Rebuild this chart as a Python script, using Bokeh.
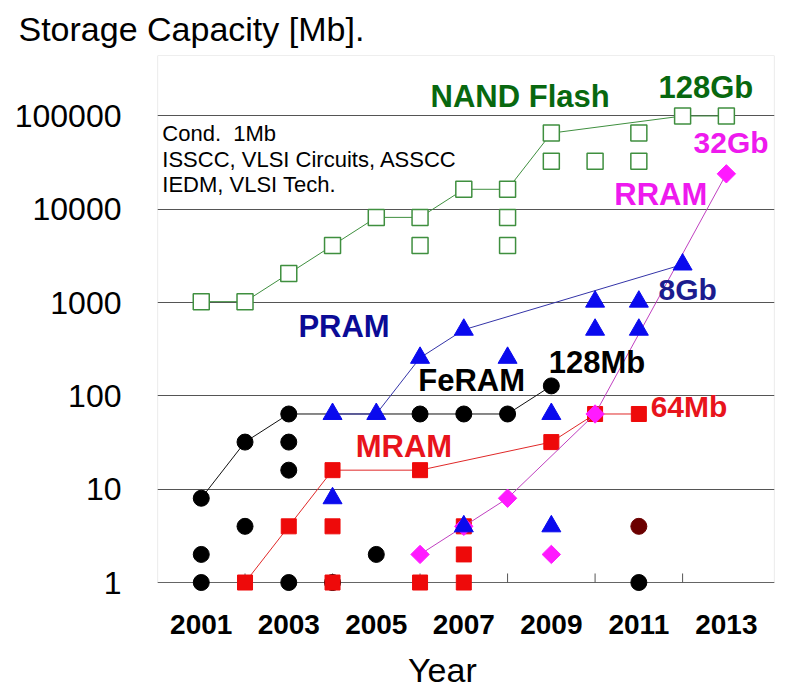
from bokeh.plotting import figure
from bokeh.models import Range1d, FixedTicker, Label, BoxAnnotation
from bokeh.embed import file_html
from bokeh.resources import INLINE

# ---------------- data ----------------
X_TICKS = [2001, 2003, 2005, 2007, 2009, 2011, 2013]
X_TICK_LABELS = ["2001", "2003", "2005", "2007", "2009", "2011", "2013"]
Y_TICKS = [1, 10, 100, 1000, 10000, 100000]
Y_TICK_LABELS = ["1", "10", "100", "1000", "10000", "100000"]
INNER_TICKS = [2002, 2004, 2006, 2008, 2010, 2012]

# NAND Flash (open squares)
NAND_LINE_YEARS = [2001, 2002, 2003, 2004, 2005, 2006, 2007, 2008, 2009, 2012, 2013]
NAND_LINE_MB = [1024, 1024, 2048, 4096, 8192, 8192, 16384, 16384, 65536, 100000, 100000]
NAND_EXTRA_YEARS = [2006, 2008, 2008, 2009, 2010, 2011, 2011]
NAND_EXTRA_MB = [4096, 8192, 4096, 32768, 32768, 65536, 32768]

# FeRAM (black circles)
FERAM_LINE_YEARS = [2001, 2002, 2003, 2006, 2007, 2008, 2009]
FERAM_LINE_MB = [8, 32, 64, 64, 64, 64, 128]
FERAM_EXTRA_YEARS = [2001, 2001, 2002, 2003, 2003, 2003, 2004, 2005, 2011]
FERAM_EXTRA_MB = [2, 1, 4, 32, 16, 1, 1, 2, 1]
FERAM_DARK_YEARS = [2011]
FERAM_DARK_MB = [4]

# MRAM (red squares)
MRAM_LINE_YEARS = [2002, 2003, 2004, 2006, 2009, 2010, 2011]
MRAM_LINE_MB = [1, 4, 16, 16, 32, 64, 64]
MRAM_EXTRA_YEARS = [2004, 2004, 2006, 2007, 2007, 2007]
MRAM_EXTRA_MB = [4, 1, 1, 4, 2, 1]

# RRAM (magenta diamonds)
RRAM_LINE_YEARS = [2006, 2007, 2008, 2010, 2013]
RRAM_LINE_MB = [2, 4, 8, 64, 24000]
RRAM_EXTRA_YEARS = [2009]
RRAM_EXTRA_MB = [2]

# PRAM (blue triangles)
PRAM_LINE_YEARS = [2004, 2005, 2006, 2007, 2012]
PRAM_LINE_MB = [64, 64, 256, 512, 2560]
PRAM_EXTRA_YEARS = [2004, 2007, 2008, 2009, 2009, 2010, 2010, 2011, 2011]
PRAM_EXTRA_MB = [8, 4, 256, 64, 4, 1024, 512, 1024, 512]

# ---------------- figure ----------------
W, H = 800, 695
FONT = "Liberation Sans"
FRAME_L, FRAME_R, FRAME_T, FRAME_B = 157, 774, 55, 594
PX_PER_DECADE = 93.3

p = figure(width=W, height=H, output_backend="svg", toolbar_location=None,
           x_range=Range1d(2000, 2014.1), y_range=Range1d(0.744, 445000),
           y_axis_type="log",
           min_border_left=FRAME_L, min_border_right=W - FRAME_R,
           min_border_top=FRAME_T, min_border_bottom=H - FRAME_B)
p.outline_line_color = None
p.background_fill_color = "white"
p.border_fill_color = "white"

# title (outside the frame, top-left)
p.title.text = "Storage Capacity [Mb]."
p.title.text_font = FONT
p.title.text_font_style = "normal"
p.title.text_font_size = "34px"
p.title.text_color = "black"
p.title.align = "left"
p.title.vertical_align = "top"
p.title.offset = 18 - FRAME_L
p.title.standoff = 12

# axes
p.xaxis.ticker = FixedTicker(ticks=X_TICKS, minor_ticks=[])
p.xaxis.major_label_overrides = {t: s for t, s in zip(X_TICKS, X_TICK_LABELS)}
p.xaxis.major_label_text_font = FONT
p.xaxis.major_label_text_font_style = "bold"
p.xaxis.major_label_text_font_size = "28px"
p.xaxis.major_label_text_color = "black"
p.xaxis.major_label_standoff = 14
p.xaxis.axis_line_color = None
p.xaxis.major_tick_line_color = None
p.xaxis.minor_tick_line_color = None
p.xaxis.axis_label = "Year" + "\u00a0" * 5
p.xaxis.axis_label_text_font = FONT
p.xaxis.axis_label_text_font_style = "normal"
p.xaxis.axis_label_text_font_size = "34px"
p.xaxis.axis_label_text_color = "black"
p.xaxis.axis_label_standoff = 14

p.yaxis.ticker = FixedTicker(ticks=Y_TICKS, minor_ticks=[])
p.yaxis.major_label_overrides = {t: s for t, s in zip(Y_TICKS, Y_TICK_LABELS)}
p.yaxis.major_label_text_font = FONT
p.yaxis.major_label_text_font_size = "32px"
p.yaxis.major_label_text_color = "black"
p.yaxis.major_label_standoff = 30
p.yaxis.axis_line_color = None
p.yaxis.major_tick_line_color = None
p.yaxis.minor_tick_line_color = None

p.xgrid.visible = False
p.ygrid.ticker = FixedTicker(ticks=Y_TICKS, minor_ticks=[])
p.ygrid.grid_line_color = "#555555"
p.ygrid.grid_line_width = 1
p.ygrid.minor_grid_line_color = None

# frame border (from the y=1 line up)
p.add_layout(BoxAnnotation(bottom=1, fill_color=None, line_color="#8c8c8c",
                           line_width=1.2, level="underlay"))

# small inner ticks at even years
p.segment(x0=INNER_TICKS, y0=[1] * len(INNER_TICKS), x1=INNER_TICKS,
          y1=[1.25] * len(INNER_TICKS), line_color="#555555", line_width=1)

# NAND Flash
GREEN = "#3f8f3f"
p.line(NAND_LINE_YEARS, NAND_LINE_MB, line_color=GREEN, line_width=1)
p.scatter(NAND_LINE_YEARS, NAND_LINE_MB, marker="square", size=16,
          fill_color="white", line_color=GREEN, line_width=1.5)
p.scatter(NAND_EXTRA_YEARS, NAND_EXTRA_MB, marker="square", size=16,
          fill_color="white", line_color=GREEN, line_width=1.5)

# FeRAM
p.line(FERAM_LINE_YEARS, FERAM_LINE_MB, line_color="#111111", line_width=1)
p.scatter(FERAM_LINE_YEARS, FERAM_LINE_MB, marker="circle", size=16,
          fill_color="black", line_color="black")
p.scatter(FERAM_EXTRA_YEARS, FERAM_EXTRA_MB, marker="circle", size=16,
          fill_color="black", line_color="black")
p.scatter(FERAM_DARK_YEARS, FERAM_DARK_MB, marker="circle", size=16,
          fill_color="#6b0000", line_color="#6b0000")

# MRAM
RED = "#ee0a0a"
p.line(MRAM_LINE_YEARS, MRAM_LINE_MB, line_color="#e02828", line_width=1)
p.scatter(MRAM_LINE_YEARS, MRAM_LINE_MB, marker="square", size=15,
          fill_color=RED, line_color=RED)
p.scatter(MRAM_EXTRA_YEARS, MRAM_EXTRA_MB, marker="square", size=15,
          fill_color=RED, line_color=RED)

# RRAM
MAG = "#ff1aff"
p.line(RRAM_LINE_YEARS, RRAM_LINE_MB, line_color="#c040c0", line_width=1)
p.scatter(RRAM_LINE_YEARS, RRAM_LINE_MB, marker="square", size=13, angle=0.785398,
          fill_color=MAG, line_color=MAG)
p.scatter(RRAM_EXTRA_YEARS, RRAM_EXTRA_MB, marker="square", size=13, angle=0.785398,
          fill_color=MAG, line_color=MAG)

# PRAM
BLUE = "#0a0aee"
p.line(PRAM_LINE_YEARS, PRAM_LINE_MB, line_color="#3434a8", line_width=1)
p.scatter(PRAM_LINE_YEARS, PRAM_LINE_MB, marker="triangle", size=19,
          fill_color=BLUE, line_color=BLUE)
p.scatter(PRAM_EXTRA_YEARS, PRAM_EXTRA_MB, marker="triangle", size=19,
          fill_color=BLUE, line_color=BLUE)


# ---------------- texts ----------------
def lab(x, y, text, color, size, bold=True, align="left"):
    # raise the text so that its baseline sits where intended
    lift = 10 ** (0.36 * size / PX_PER_DECADE)
    p.add_layout(Label(x=x, y=y * lift, text=text, text_color=color,
                       text_font=FONT, text_font_size=f"{size}px",
                       text_font_style="bold" if bold else "normal",
                       text_align=align, text_baseline="alphabetic"))


lab(2000.11, 53300, "Cond.\u00a0\u00a01Mb", "black", 22, bold=False)
lab(2000.11, 28050, "ISSCC, VLSI Circuits, ASSCC", "black", 22, bold=False)
lab(2000.11, 15140, "IEDM, VLSI Tech.", "black", 22, bold=False)
lab(2006.24, 123300, "NAND Flash", "#08680f", 31)
lab(2011.45, 154200, "128Gb", "#08680f", 31)
lab(2003.22, 422.7, "PRAM", "#0b0b96", 31)
lab(2011.45, 1054, "8Gb", "#1c1c8e", 30)
lab(2005.96, 111.4, "FeRAM", "black", 31)
lab(2008.94, 173.8, "128Mb", "black", 31)
lab(2004.53, 21.9, "MRAM", "#e8141c", 31)
lab(2011.27, 58.6, "64Mb", "#e8141c", 30)
lab(2010.44, 10990, "RRAM", "#ee1aee", 31)
lab(2012.25, 39600, "32Gb", "#ee1aee", 30)

open("out.html", "w").write(file_html(p, INLINE))
